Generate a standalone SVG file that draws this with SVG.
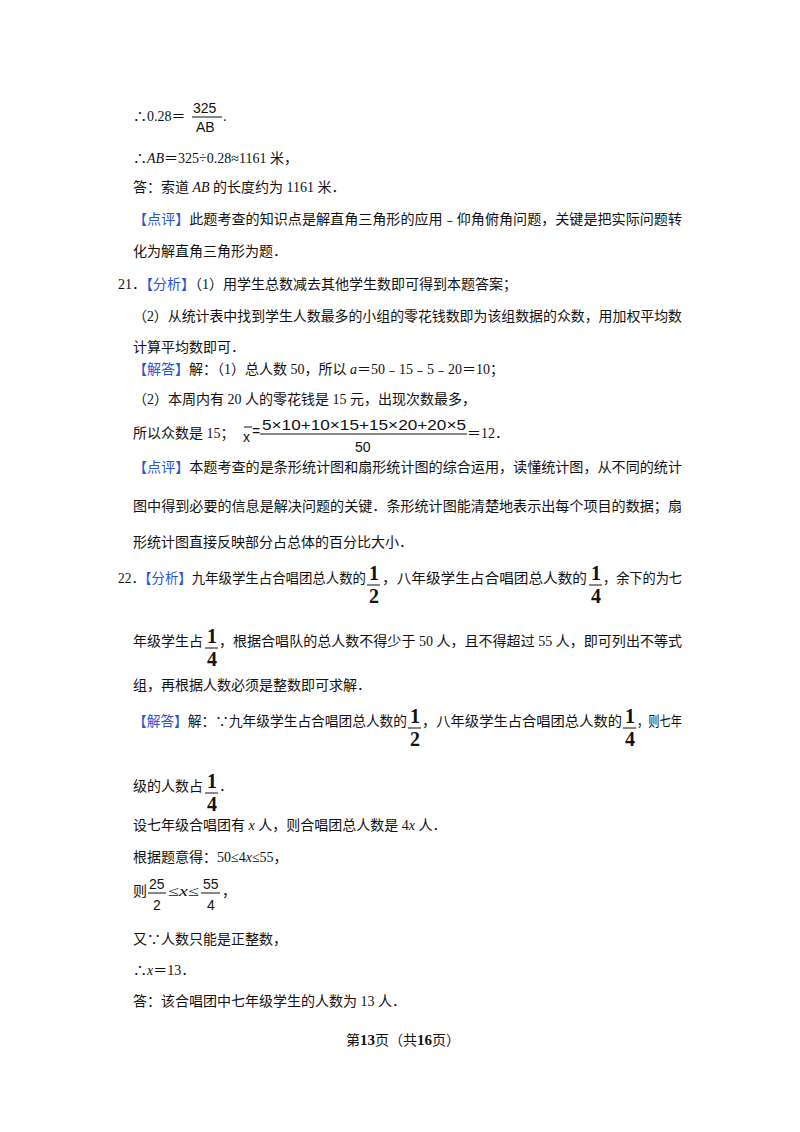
<svg xmlns="http://www.w3.org/2000/svg" width="800" height="1132" viewBox="0 0 800 1132">
<style>
text{font-family:"Liberation Serif","Noto Sans CJK SC",serif;font-size:14px;fill:#111}
.b{fill:#2a54d8}
.f{font-family:"Liberation Sans","Noto Sans CJK SC",sans-serif;font-size:14px}
.big{font-family:"Liberation Serif",serif;font-size:20px;font-weight:bold}
line{stroke:#111;stroke-width:1}
</style>
<rect width="800" height="1132" fill="#fff"/>
<g id="body">
<text x="133" y="121">∴0.28＝</text>
<text class="f" x="193" y="113">325</text>
<line x1="192" y1="117" x2="222" y2="117"/>
<text class="f" x="196" y="132" font-size="12">AB</text>
<text x="223" y="121">.</text>
<text x="133" y="163">∴<tspan font-style="italic">AB</tspan>＝325÷0.28≈1161 米，</text>
<text x="133" y="192">答：索道 <tspan font-style="italic">AB</tspan> 的长度约为 1161 米．</text>
<text x="133" y="224" textLength="549" lengthAdjust="spacingAndGlyphs"><tspan class="b">【点评】</tspan>此题考查的知识点是解直角三角形的应用﹣仰角俯角问题，关键是把实际问题转</text>
<text x="133" y="256">化为解直角三角形为题．</text>
<text x="118" y="289">21．<tspan class="b">【分析】</tspan>（1）用学生总数减去其他学生数即可得到本题答案；</text>
<text x="133" y="321" textLength="549" lengthAdjust="spacingAndGlyphs">（2）从统计表中找到学生人数最多的小组的零花钱数即为该组数据的众数，用加权平均数</text>
<text x="133" y="352">计算平均数即可．</text>
<text x="133" y="374"><tspan class="b">【解答】</tspan>解：（1）总人数 50，所以 <tspan font-style="italic">a</tspan>＝50﹣15﹣5﹣20＝10；</text>
<text x="133" y="404">（2）本周内有 20 人的零花钱是 15 元，出现次数最多，</text>
<text x="133" y="438">所以众数是 15；</text>
<line x1="244" y1="427" x2="252" y2="427"/>
<text class="f" x="243" y="442" font-size="12">x</text>
<text class="f" x="252" y="436" font-size="12">=</text>
<text class="f" x="262" y="430" textLength="204" lengthAdjust="spacingAndGlyphs">5×10+10×15+15×20+20×5</text>
<line x1="260" y1="434" x2="467" y2="434"/>
<text class="f" x="355" y="452">50</text>
<text x="467" y="438">＝12．</text>
<text x="133" y="472" textLength="549" lengthAdjust="spacingAndGlyphs"><tspan class="b">【点评】</tspan>本题考查的是条形统计图和扇形统计图的综合运用，读懂统计图，从不同的统计</text>
<text x="133" y="511" textLength="549" lengthAdjust="spacingAndGlyphs">图中得到必要的信息是解决问题的关键．条形统计图能清楚地表示出每个项目的数据；扇</text>
<text x="133" y="547">形统计图直接反映部分占总体的百分比大小．</text>
<text x="118" y="583" textLength="248" lengthAdjust="spacingAndGlyphs">22．<tspan class="b">【分析】</tspan>九年级学生占合唱团总人数的</text>
<text class="big" x="369" y="580">1</text>
<line x1="367" y1="585" x2="380" y2="585"/>
<text class="big" x="369" y="603">2</text>
<text x="382" y="583" textLength="205" lengthAdjust="spacingAndGlyphs">，八年级学生占合唱团总人数的</text>
<text class="big" x="591" y="580">1</text>
<line x1="589" y1="585" x2="602" y2="585"/>
<text class="big" x="591" y="603">4</text>
<text x="603" y="583" textLength="79" lengthAdjust="spacingAndGlyphs">，余下的为七</text>
<text x="133" y="646">年级学生占</text>
<text class="big" x="207" y="643">1</text>
<line x1="205" y1="648" x2="218" y2="648"/>
<text class="big" x="207" y="666">4</text>
<text x="219" y="646" textLength="463" lengthAdjust="spacingAndGlyphs">，根据合唱队的总人数不得少于 50 人，且不得超过 55 人，即可列出不等式</text>
<text x="133" y="690">组，再根据人数必须是整数即可求解．</text>
<text x="133" y="726" textLength="274" lengthAdjust="spacingAndGlyphs"><tspan class="b">【解答】</tspan>解：∵九年级学生占合唱团总人数的</text>
<text class="big" x="410" y="723">1</text>
<line x1="408" y1="728" x2="421" y2="728"/>
<text class="big" x="410" y="746">2</text>
<text x="422" y="726" textLength="200" lengthAdjust="spacingAndGlyphs">，八年级学生占合唱团总人数的</text>
<text class="big" x="625" y="723">1</text>
<line x1="623" y1="728" x2="636" y2="728"/>
<text class="big" x="625" y="746">4</text>
<text x="637" y="726" textLength="45" lengthAdjust="spacingAndGlyphs">，则七年</text>
<text x="133" y="791">级的人数占</text>
<text class="big" x="207" y="788">1</text>
<line x1="205" y1="793" x2="218" y2="793"/>
<text class="big" x="207" y="811">4</text>
<text x="219" y="791">．</text>
<text x="133" y="830">设七年级合唱团有 <tspan font-style="italic">x</tspan> 人，则合唱团总人数是 4<tspan font-style="italic">x</tspan> 人．</text>
<text x="133" y="862">根据题意得：50≤4<tspan font-style="italic">x</tspan>≤55，</text>
<text x="133" y="896">则</text>
<text class="f" x="149" y="889">25</text>
<line x1="148" y1="893" x2="166" y2="893"/>
<text class="f" x="153" y="910">2</text>
<text x="168" y="896" textLength="31" lengthAdjust="spacingAndGlyphs">≤<tspan font-style="italic">x</tspan>≤</text>
<text class="f" x="203" y="889">55</text>
<line x1="201" y1="893" x2="220" y2="893"/>
<text class="f" x="207" y="910">4</text>
<text x="222" y="896">，</text>
<text x="133" y="944">又∵人数只能是正整数，</text>
<text x="133" y="975">∴<tspan font-style="italic">x</tspan>＝13．</text>
<text x="133" y="1006">答：该合唱团中七年级学生的人数为 13 人．</text>
<text x="346" y="1045" font-size="13">第<tspan font-weight="bold" font-size="15">13</tspan>页（共<tspan font-weight="bold" font-size="15">16</tspan>页）</text>
</g>
</svg>
